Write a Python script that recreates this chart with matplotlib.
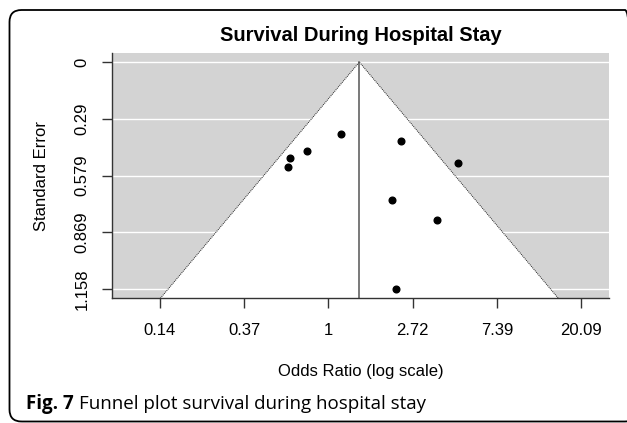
import matplotlib
matplotlib.use("Agg")
import matplotlib.pyplot as plt
from matplotlib.patches import FancyBboxPatch, Polygon
from matplotlib.transforms import IdentityTransform

# Study estimates (log odds ratio) and standard errors
log_or = [0.147, -0.253, -0.454, -0.478, 0.866, 1.542, 0.752, 1.293, 0.803]
std_err = [0.369, 0.451, 0.489, 0.537, 0.404, 0.516, 0.705, 0.807, 1.158]
pooled = 0.368  # pooled log odds ratio (vertical line)

x_ticks = [-2, -1, 0, 1, 2, 3]
x_tick_labels = ["0.14", "0.37", "1", "2.72", "7.39", "20.09"]
y_ticks = [0, 0.2895, 0.579, 0.8685, 1.158]
y_tick_labels = ["0", "0.29", "0.579", "0.869", "1.158"]

W, H = 627, 423
plt.rcParams['font.family'] = ['Liberation Sans', 'DejaVu Sans']

fig = plt.figure(figsize=(W / 100, H / 100), dpi=100)
fig.patch.set_facecolor('white')

# plot region in pixels: x 112..609, y 53..298
ax = fig.add_axes([112 / W, 1 - 298.3 / H, (608.7 - 112) / W, (298.3 - 53) / H])
ax.set_facecolor('#D3D3D3')

se_max = max(std_err)
y_bottom = se_max * 1.04
ax.set_ylim(y_bottom, -se_max * 0.04)
ax.set_xlim(-2.566, 3.326)

# white grid lines on grey background
ax.set_axisbelow(True)
ax.yaxis.grid(True, color='white', linewidth=1)
ax.xaxis.grid(False)

# white funnel (pseudo 95% CI region)
half = 1.96 * y_bottom
funnel = Polygon([(pooled - half, y_bottom), (pooled, 0), (pooled + half, y_bottom)],
                 closed=True, facecolor='white', edgecolor='none', zorder=1)
ax.add_patch(funnel)
ax.plot([pooled - half, pooled, pooled + half], [y_bottom, 0, y_bottom],
        color='#222222', linestyle=(0, (1, 1)), linewidth=0.7, zorder=2)

ax.plot([pooled, pooled], [0, y_bottom], color='#555555', linewidth=1.1, zorder=2)

ax.plot(log_or, std_err, 'o', color='black', markersize=4.8, zorder=3)

for side in ['top', 'right']:
    ax.spines[side].set_visible(False)
for side in ['left', 'bottom']:
    ax.spines[side].set_color('#333333')
    ax.spines[side].set_linewidth(1.0)

ax.set_xticks(x_ticks, x_tick_labels)
ax.set_yticks(y_ticks, y_tick_labels, rotation=90, va='center')
ax.tick_params(axis='both', direction='out', length=7, width=1, color='#333333',
               labelsize=12, labelcolor='black')
ax.tick_params(axis='x', pad=11)
ax.tick_params(axis='y', pad=9)

fig.text(360.5 / W, 1 - 40.7 / H, "Survival During Hospital Stay", ha='center',
         va='baseline', fontsize=14.5, fontweight='bold')
fig.text(360.5 / W, 1 - 376 / H, "Odds Ratio (log scale)", ha='center',
         va='baseline', fontsize=12)
fig.text(42 / W, 1 - 175.5 / H, "Standard Error", rotation=90, ha='center',
         va='center', fontsize=12)

# caption: bold "Fig. 7" followed by regular text
renderer = fig.canvas.get_renderer()
cap_y = 1 - 409 / H
t1 = fig.text(26 / W, cap_y, "Fig. 7", ha='left', va='baseline', fontsize=13.5,
              fontweight='bold', family=['Open Sans', 'DejaVu Sans'])
bb = t1.get_window_extent(renderer=renderer)
fig.text(bb.x1 / W + 5 / W, cap_y, "Funnel plot survival during hospital stay",
         ha='left', va='baseline', fontsize=13.5, family=['Open Sans', 'DejaVu Sans'])

# rounded frame around the whole figure (right side runs off the image)
frame = FancyBboxPatch((9.5, 1.5), 637 - 9.5, 413 - 1.5,
                       boxstyle='round,pad=0,rounding_size=12',
                       transform=IdentityTransform(), facecolor='none',
                       edgecolor='black', linewidth=1.3)
fig.add_artist(frame)

fig.savefig("out.png", dpi=100)
